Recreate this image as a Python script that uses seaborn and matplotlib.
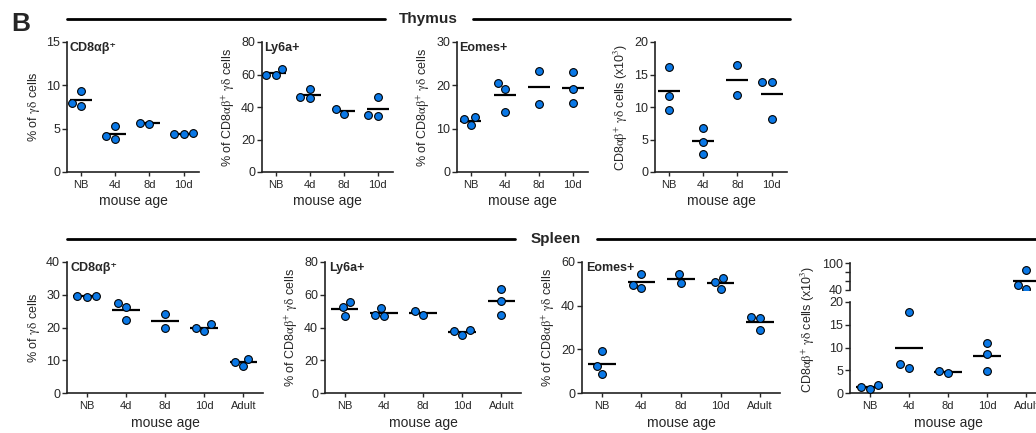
import numpy as np
import pandas as pd
import seaborn as sns
import matplotlib.pyplot as plt
from matplotlib.lines import Line2D

# categories
ages_thy = ["NB", "4d", "8d", "10d"]
ages_spl = ["NB", "4d", "8d", "10d", "Adult"]

# thymus: replicate values per age
thy_cd8 = [[9.4, 7.6, 8.0], [5.3, 3.8, 4.1], [5.5, 5.7], [4.4, 4.5, 4.4]]
thy_ly6a = [[63.5, 59.4, 59.5], [51.0, 45.5, 46.0], [36.0, 39.0], [46.3, 34.7, 35.0]]
thy_eomes = [[12.6, 10.8, 12.2], [20.6, 19.2, 13.8], [23.3, 15.8], [23.1, 19.1, 16.0]]
thy_count = [[16.1, 11.7, 9.6], [6.8, 4.6, 2.8], [16.4, 11.9], [13.8, 13.8, 8.2]]

# spleen
spl_cd8 = [[29.2, 29.7, 29.6], [27.6, 26.2, 22.3], [24.0, 19.8], [21.0, 19.0, 20.0], [10.5, 8.2, 9.6]]
spl_ly6a = [[55.4, 47.0, 52.3], [51.9, 46.8, 47.4], [47.4, 50.1], [35.4, 38.5, 38.1], [63.5, 56.4, 47.8]]
spl_eomes = [[19.2, 12.4, 8.9], [54.6, 48.0, 49.6], [54.3, 50.3], [52.8, 47.6, 50.8], [34.7, 29.0, 34.2]]
spl_count = [[0.8, 1.8, 1.25], [17.9, 5.5, 6.3], [4.3, 4.8], [11.0, 8.6, 4.8], [85.4, 42.9, 51.0]]

lab_pct = r"% of $\mathrm{\gamma\delta}$ cells"
lab_sub = r"% of CD8$\mathrm{\alpha\beta}^{+}$ $\mathrm{\gamma\delta}$ cells"
lab_cnt = r"CD8$\mathrm{\alpha\beta}^{+}$ $\mathrm{\gamma\delta}$ cells (x10$^{3}$)"

BLUE = "#0a78e6"
W, H = 1036, 433

sns.set_style("ticks")
plt.rcParams["font.family"] = ["Liberation Sans", "DejaVu Sans"]
plt.rcParams["mathtext.fontset"] = "stix"
plt.rcParams["axes.edgecolor"] = "#222222"
plt.rcParams["axes.linewidth"] = 1.2

fig = plt.figure(figsize=(W / 100, H / 100), dpi=100)


def box(x, top, w, h):
    return [x / W, 1 - (top + h) / H, w / W, h / H]


def to_df(groups, ages):
    return pd.DataFrame({"age": [a for a, g in zip(ages, groups) for _ in g],
                         "val": [v for g in groups for v in g]})


def style(ax, n, xlim):
    ax.set_xlim(*xlim)
    sns.despine(ax=ax)
    ax.tick_params(axis="y", labelsize=9, length=3.5, width=1, pad=1.5)
    ax.tick_params(axis="x", labelsize=8, length=3, width=1, pad=3)
    ax.set_xlabel("mouse age", fontsize=10, labelpad=3)


def panel(ax, groups, ages, ylim, step, ylabel, title=None, xlim=None, hw=0.32):
    ax.set_ylim(*ylim)
    pos = np.arange(len(ages))
    means = [np.mean(g) for g in groups]
    ax.hlines(means, pos - hw, pos + hw, color="black", lw=1.6, zorder=1)
    sns.swarmplot(data=to_df(groups, ages), x="age", y="val", order=ages, ax=ax,
                  color=BLUE, size=5.6, edgecolor="black", linewidth=0.8, zorder=3)
    ax.set_ylim(*ylim)
    ax.set_yticks(np.arange(ylim[0], ylim[1] + step / 2, step))
    ax.set_ylabel(ylabel, fontsize=9, labelpad=3)
    style(ax, len(ages), xlim)
    if title:
        ax.text(0.02, 1.0, title, transform=ax.transAxes, ha="left", va="top",
                fontsize=9, fontweight="bold")


# top row (thymus)
xl_t = (-0.4, 3.45)
a1 = fig.add_axes(box(67, 42, 132, 130))
panel(a1, thy_cd8, ages_thy, (0, 15), 5, lab_pct, "CD8αβ⁺", xl_t)
a2 = fig.add_axes(box(262, 42, 131, 130))
panel(a2, thy_ly6a, ages_thy, (0, 80), 20, lab_sub, "Ly6a+", xl_t)
a3 = fig.add_axes(box(457, 42, 131, 130))
panel(a3, thy_eomes, ages_thy, (0, 30), 10, lab_sub, "Eomes+", xl_t)
a4 = fig.add_axes(box(655, 42, 132, 130))
panel(a4, thy_count, ages_thy, (0, 20), 5, lab_cnt, None, xl_t)

# bottom row (spleen)
xl_s = (-0.5, 4.5)
b1 = fig.add_axes(box(67, 262, 196, 131))
panel(b1, spl_cd8, ages_spl, (0, 40), 10, lab_pct, "CD8αβ⁺", xl_s, 0.35)
b2 = fig.add_axes(box(325, 262, 196, 131))
panel(b2, spl_ly6a, ages_spl, (0, 80), 20, lab_sub, "Ly6a+", xl_s, 0.35)
b3 = fig.add_axes(box(582, 262, 198, 131))
panel(b3, spl_eomes, ages_spl, (0, 60), 20, lab_sub, "Eomes+", xl_s, 0.35)

# broken axis panel: counts, 0-20 below and 40-100 above
low = [[v for v in g if v <= 20] for g in spl_count]
high = [[v for v in g if v > 20] for g in spl_count]
means = [np.mean(g) for g in spl_count]
pos = np.arange(len(ages_spl))

bl = fig.add_axes(box(850, 302, 196, 91))
bh = fig.add_axes(box(850, 263, 196, 27))
bl.set_ylim(0, 20)
bh.set_ylim(40, 100)
for ax, vals, lo, hi in [(bl, low, 0, 20), (bh, high, 40, 100)]:
    keep = [(a, v) for a, g in zip(ages_spl, vals) for v in g]
    df = pd.DataFrame(keep, columns=["age", "val"])
    m = [(p, mu) for p, mu in zip(pos, means) if lo <= mu <= hi]
    ax.hlines([mu for _, mu in m], [p - 0.35 for p, _ in m], [p + 0.35 for p, _ in m],
              color="black", lw=1.6, zorder=1)
    sns.swarmplot(data=df, x="age", y="val", order=ages_spl, ax=ax,
                  color=BLUE, size=5.6, edgecolor="black", linewidth=0.8, zorder=3)
    ax.set_ylim(lo, hi)
    ax.set_xlim(*xl_s)

bl.set_yticks([0, 5, 10, 15, 20])
bl.set_ylabel(lab_cnt, fontsize=9, labelpad=3)
bl.yaxis.set_label_coords(-0.17, 0.7)
style(bl, 5, xl_s)
bh.set_yticks([40, 60, 80, 100])
bh.set_yticklabels(["40", "", "", "100"])
bh.set_xlabel("")
bh.set_ylabel("")
bh.set_xticks([])
sns.despine(ax=bh, bottom=True)
bh.tick_params(axis="y", labelsize=9, length=3.5, width=1, pad=1.5)

# section headers
def header(y, x0, x1, tx, x2, x3, text):
    yf = 1 - y / H
    fig.add_artist(Line2D([x0 / W, x1 / W], [yf, yf], color="black", lw=2))
    fig.add_artist(Line2D([x2 / W, x3 / W], [yf, yf], color="black", lw=2))
    fig.text(tx / W, yf, text, ha="center", va="center", fontsize=11, fontweight="bold")


header(19, 67, 385, 428, 473, 790, "Thymus")
header(239, 67, 515, 556, 597, 1040, "Spleen")
fig.text(11 / W, 1 - 31 / H, "B", ha="left", va="baseline", fontsize=19, fontweight="bold")

fig.savefig("out.png", dpi=100)
